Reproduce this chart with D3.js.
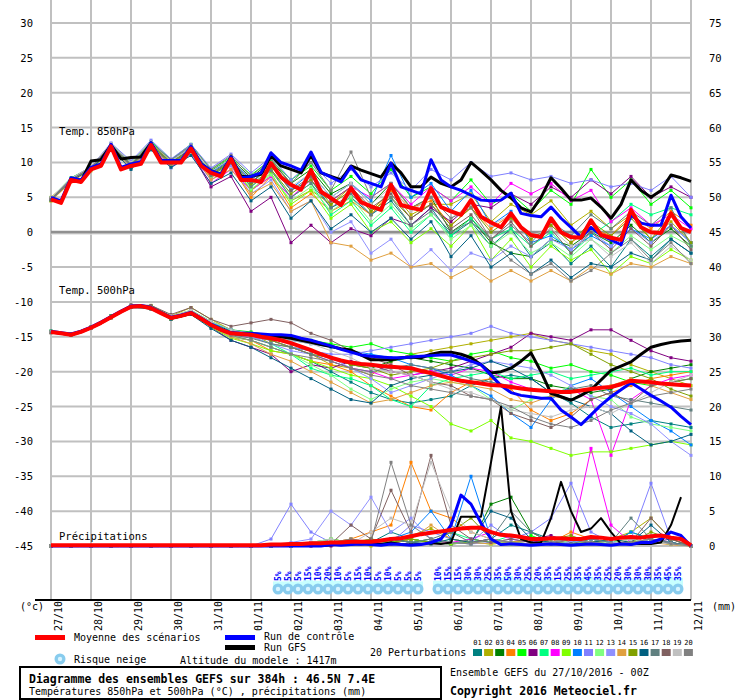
<!DOCTYPE html>
<html><head><meta charset="utf-8">
<script src="https://cdn.jsdelivr.net/npm/d3@7"></script>
<style>body{margin:0;background:#fff}text{font-family:"DejaVu Sans Mono",monospace}</style>
</head><body><svg id="c" width="740" height="700"></svg>
<script>
const dates=["27/10","28/10","29/10","30/10","31/10","01/11","02/11","03/11","04/11","05/11","06/11","07/11","08/11","09/11","10/11","11/11","12/11"];
const leftTicks=[30,25,20,15,10,5,0,-5,-10,-15,-20,-25,-30,-35,-40,-45];
const rightTicks=[75,70,65,60,55,50,45,40,35,30,25,20,15,10,5,0];
const memberColors=["#008080","#b0b000","#008000","#ff8000","#00ff00","#800080","#00ff80","#ff00ff","#80ff00","#0080ff","#8080ff","#80ff80","#9090ff","#e0a040","#80a000","#006080","#608080","#806060","#c0c0c0","#808080"];
// 6-hourly (65 pts)
const mean850=[4.7,4.2,7.5,7.2,9.0,9.5,12.3,9.0,9.5,9.8,12.5,10.0,10.0,10.0,12.0,9.5,8.5,8.0,10.5,7.5,7.5,7.2,9.9,7.9,6.8,6.1,8.9,5.8,4.9,3.9,6.3,4.3,3.7,3.2,6.8,3.9,3.5,3.2,6.3,3.6,3.0,2.5,4.6,2.2,1.4,0.7,2.7,0.7,-0.4,-0.7,2.0,0,-0.7,-0.8,1.7,-0.4,-0.8,-1.1,3.2,0.7,0,-0.1,2.7,0.6,0];
const ctrl850=[5.0,4.5,7.8,7.5,9.3,9.8,12.6,9.3,9.8,10.1,12.8,10.3,10.3,10.3,12.3,9.8,8.8,8.3,10.8,7.8,8.0,8.5,11.4,10.0,9.5,8.9,11.5,8.6,7.9,7.2,9.4,7.5,7.0,6.5,9.9,6.5,6.0,5.5,10.4,7.5,6.5,6.0,5.3,4.6,4.5,4.6,5.6,2.7,2.4,2.2,3.6,2.0,0.7,-0.7,0.7,-0.4,-1.1,-1.8,2.5,1.3,1.0,1.0,5.3,2.2,0.6];
const gfs850=[4.8,4.3,7.6,7.3,10.2,10.4,12.5,10.5,10.7,10.8,12.8,10.2,10.2,10.2,12.2,9.8,8.8,8.3,10.8,8.0,8.0,8.3,11.0,9.5,9.0,8.5,11.0,8.5,8.0,7.5,9.5,8.9,8.4,7.9,9.9,8.5,6.5,6.5,7.9,7.0,6.5,7.5,10.0,8.8,7.5,6.0,4.9,3.5,2.9,5.0,7.8,6.3,4.6,4.6,4.9,3.6,2.0,4.0,7.5,6.0,5.0,6.0,8.2,7.8,7.3];
const mean500=[-14.3,-14.5,-14.7,-14.3,-13.7,-13.0,-12.2,-11.4,-10.7,-10.6,-10.9,-11.6,-12.3,-12.0,-11.6,-12.4,-13.3,-14.0,-14.5,-14.6,-14.7,-15.0,-15.2,-15.5,-15.9,-16.4,-16.9,-17.5,-18.0,-18.4,-18.7,-18.9,-19.0,-19.2,-19.3,-19.4,-19.5,-19.9,-20.2,-20.6,-21.0,-21.3,-21.5,-21.7,-21.9,-22.0,-22.2,-22.4,-22.6,-22.7,-22.8,-22.9,-22.9,-22.7,-22.5,-22.3,-22.2,-21.8,-21.3,-21.4,-21.5,-21.7,-21.8,-21.9,-22.0];
const ctrl500=[-14.2,-14.4,-14.6,-14.2,-13.6,-12.9,-12.1,-11.3,-10.6,-10.5,-10.8,-11.5,-12.2,-11.9,-11.5,-12.3,-13.2,-13.9,-14.4,-14.5,-14.5,-14.6,-14.7,-14.7,-14.8,-15.2,-15.5,-15.9,-16.3,-16.8,-17.2,-17.6,-17.8,-17.9,-18.0,-18.0,-17.9,-17.8,-17.7,-17.6,-17.6,-18.0,-18.5,-19.0,-20.5,-22.0,-23.0,-23.4,-23.6,-23.8,-23.8,-25.5,-26.5,-27.6,-26.2,-24.8,-23.6,-22.6,-21.6,-22.5,-23.4,-24.2,-25.1,-26.4,-27.6];
const gfs500=[-14.3,-14.5,-14.7,-14.3,-13.7,-13.0,-12.2,-11.4,-10.7,-10.6,-10.9,-11.6,-12.3,-12.0,-11.6,-12.4,-13.3,-14.0,-14.5,-14.6,-14.7,-14.8,-14.9,-15.0,-15.2,-15.5,-15.8,-16.1,-16.4,-16.7,-16.9,-17.6,-18.3,-18.3,-18.3,-18.0,-17.9,-18.0,-17.5,-17.2,-17.2,-17.5,-18.0,-19.0,-20.2,-20.0,-19.5,-18.5,-17.3,-20.0,-23.1,-23.6,-24.1,-23.4,-22.6,-21.2,-19.8,-19.2,-18.6,-17.5,-16.5,-16.1,-15.8,-15.6,-15.5];
const meanPr=[0.1,0.1,0.1,0.1,0.1,0.1,0.1,0.1,0.1,0.1,0.1,0.1,0.1,0.1,0.1,0.1,0.1,0.1,0.1,0.1,0.1,0.1,0.2,0.2,0.3,0.3,0.4,0.4,0.5,0.5,0.6,0.6,0.6,0.8,1.0,1.1,1.4,1.7,1.9,2.1,2.3,2.5,2.6,2.6,2.0,1.6,1.5,1.3,1.0,1.0,1.1,1.1,1.0,1.0,1.3,1.2,1.0,1.2,1.3,1.2,1.4,1.5,1.2,1.0,0.1];
const ctrlPr=[0,0,0,0,0,0,0,0,0,0,0,0,0,0,0,0,0,0,0,0,0,0,0,0,0,0,0,0,0.2,0.1,0.2,0.3,0.2,0.1,0.3,0.2,0.1,0.2,0.5,1,3,7.3,6,3.3,1,0.2,0.3,0.2,0.1,0.2,0.3,0.2,0.1,0.2,0.3,0.2,0.1,0.3,0.2,0.5,0.5,1,2,1.5,0];
const gfsPr=[0,0,0,0,0,0,0,0,0,0,0,0,0,0,0,0,0,0,0,0,0,0,0,0,0,0,0,0,0.1,0.2,0.3,0.2,0.4,0.3,0.5,0.3,0.2,0.3,0.4,0.3,0.5,4.2,4.2,4.2,12,20,5,1,0.5,0.5,4,9.2,5,2,2.5,4,2,0.3,0.3,0.3,0.3,0.5,3,7,null];
// 12-hourly members (33 pts)
const m850=[
[4.8,7.3,9.2,12.6,9.3,12.2,9.8,11.6,8.2,10.2,7.0,9.5,6.0,7.5,3.5,5.0,2.5,4.5,1.0,3.5,-0.5,1.5,-2.0,0.5,-3.5,-1.5,-4.5,-2.0,-5.0,-1.0,-3.5,-1.0,-3.0],
[5.0,7.6,8.8,12.0,9.6,12.8,10.2,12.3,8.0,10.0,6.0,8.0,4.5,6.0,4.0,6.5,3.0,6.0,2.5,4.0,4.0,5.5,1.5,4.0,2.5,4.5,1.0,3.0,0.5,2.5,-1.0,1.5,-1.5],
[4.6,7.4,9.4,12.4,9.8,12.6,10.0,11.8,8.8,10.6,7.8,10.2,7.0,9.0,5.5,7.0,4.0,7.0,3.5,5.0,0.0,2.0,-1.5,-3.0,-3.5,-1.0,-2.0,0.0,-1.5,1.0,-1.5,0.5,-2.0],
[4.5,7.2,9.0,12.2,9.2,12.4,9.6,11.5,7.8,9.6,5.0,8.0,3.5,5.5,3.0,4.5,2.5,6.0,3.5,4.5,1.0,3.5,0.5,2.5,-1.0,1.0,-1.5,0.5,-0.5,2.5,0.5,3.0,1.0],
[4.9,7.8,9.3,12.7,10.0,13.0,10.4,12.6,9.0,10.8,8.2,10.4,7.5,9.5,6.0,8.0,5.5,9.0,5.0,6.5,4.5,7.5,4.0,5.5,3.0,6.0,4.0,9.0,5.0,7.5,4.0,6.0,3.5],
[4.7,7.4,9.1,12.3,9.4,12.1,9.6,11.4,6.5,8.0,3.0,5.0,-1.5,1.0,-1.5,0.5,-0.5,2.0,1.0,3.5,1.5,4.0,3.5,5.5,4.0,6.5,5.0,7.5,5.5,8.0,5.0,6.5,5.0],
[4.6,7.5,9.0,12.1,9.8,12.5,10.0,12.0,8.5,10.2,6.5,9.0,5.0,7.0,2.5,4.5,1.0,3.5,0.0,2.5,-0.5,2.0,-1.0,0.5,-2.0,0.0,-3.0,-0.5,1.5,4.0,2.5,3.5,2.5],
[4.8,7.6,9.2,12.5,9.5,12.4,9.4,11.2,7.0,9.0,6.0,8.0,5.0,7.5,4.5,6.5,5.0,7.0,4.0,6.5,4.5,6.5,4.0,7.0,5.5,7.0,4.5,6.0,1.5,3.5,1.0,2.5,0.5],
[4.5,7.3,9.1,12.2,9.7,12.7,10.1,11.8,8.2,9.8,6.0,8.5,4.0,6.0,2.0,4.0,0.0,1.5,-1.5,0.5,-2.0,1.0,-4.0,-1.0,-5.0,-2.0,-4.0,-2.5,-6.0,-3.5,-4.5,-2.5,-4.0],
[4.7,7.5,9.3,12.6,9.6,12.9,10.3,12.2,8.6,10.4,7.5,9.8,6.2,8.5,5.0,7.0,4.5,11.0,5.0,7.0,3.0,6.0,1.0,3.0,-1.5,-0.5,-2.5,-0.5,-2.0,0.5,-1.0,1.0,-1.5],
[4.9,7.7,9.4,12.8,10.2,13.2,10.5,12.6,9.2,11.2,8.5,10.8,7.5,10.0,7.0,9.0,6.5,8.5,6.0,9.0,7.5,10.0,8.0,8.5,7.5,8.0,7.0,7.5,6.5,7.0,6.0,8.0,5.0],
[4.6,7.4,9.0,12.0,9.4,12.3,9.7,11.6,8.0,9.8,6.2,8.2,4.5,6.5,3.0,5.0,1.5,4.0,0.5,2.5,-1.0,1.0,-2.0,0.0,-3.0,-1.5,-3.5,-1.0,-3.0,-0.5,-2.5,-0.5,-2.0],
[4.7,7.5,9.2,12.4,9.2,12.0,9.2,11.2,7.5,9.5,5.5,7.5,3.0,4.5,0.0,1.5,-3.0,-1.0,-5.0,-2.5,-5.5,-3.0,-4.0,-2.0,-3.5,-1.0,-2.5,0.0,-2.0,0.5,-1.5,1.0,-1.5],
[4.5,7.3,8.9,12.1,9.3,12.2,9.5,11.5,7.5,9.0,5.5,7.0,3.0,4.5,-1.5,-2.0,-4.0,-3.0,-5.0,-4.5,-6.5,-5.0,-7.0,-5.5,-7.0,-5.5,-7.0,-5.0,-6.0,-4.5,-5.0,-3.5,-4.5],
[4.8,7.6,9.1,12.3,9.6,12.5,9.9,11.8,8.3,10.0,6.8,9.0,5.5,7.5,4.0,6.0,3.0,5.0,2.0,4.0,1.0,3.5,0.0,2.0,-1.0,1.0,-1.5,1.5,-0.5,2.0,-1.0,2.5,-1.5],
[4.6,7.4,9.0,12.0,9.0,11.8,9.3,11.0,7.0,8.5,4.5,6.5,2.0,4.5,0.5,2.5,0.0,2.0,-1.0,1.5,-3.5,-0.5,-5.0,-3.0,-6.0,-4.0,-6.5,-4.5,-5.0,-3.0,-4.0,-1.0,-3.0],
[4.7,7.5,9.2,12.2,9.5,12.3,9.8,11.7,8.1,9.9,6.5,8.8,5.0,7.0,3.5,5.5,2.5,5.0,1.0,3.0,0.0,1.5,-1.0,1.0,-1.5,1.5,-0.5,2.5,0.5,3.0,1.0,3.5,-2.0],
[4.8,7.6,9.3,12.5,9.7,12.6,10.0,12.0,8.4,10.3,7.2,9.5,6.0,8.0,4.5,6.5,3.5,5.5,2.0,4.0,0.5,2.5,-1.0,1.5,-2.0,0.5,-3.0,0.0,-2.5,0.5,-2.0,1.0,-2.5],
[4.9,7.7,9.4,12.7,10.0,12.9,10.2,12.2,8.7,10.6,7.6,10.0,6.5,8.5,5.0,7.0,4.0,6.5,3.0,5.0,2.0,4.0,1.0,2.5,-0.5,0.5,-2.0,-1.0,-3.5,-1.5,-4.5,-2.0,-4.0],
[4.7,7.5,9.2,12.4,9.8,12.8,10.4,12.4,9.0,11.0,8.0,10.5,7.0,10.0,6.0,11.5,5.0,7.0,3.5,5.0,2.0,3.5,-1.0,-4.0,-6.0,-4.5,-7.0,-5.5,-3.0,-1.0,-4.0,-1.5,-4.5]];
const m500=[
[-14.3,-14.8,-13.8,-12.0,-10.6,-11.0,-12.5,-11.8,-13.5,-15.0,-15.5,-16.5,-17.5,-18.5,-20.0,-21.5,-23.0,-24.0,-24.5,-24.0,-23.5,-22.0,-21.0,-20.5,-21.0,-23.0,-24.5,-26.5,-28.0,-27.5,-27.0,-27.5,-28.0],
[-14.4,-14.6,-13.6,-12.3,-10.8,-10.5,-12.0,-10.8,-12.5,-14.0,-14.5,-16.0,-16.5,-17.5,-19.0,-19.5,-20.5,-18.5,-17.5,-17.0,-16.5,-16.0,-15.5,-15.0,-14.5,-15.5,-16.0,-17.0,-17.5,-19.0,-20.0,-21.0,-22.0],
[-14.2,-14.7,-13.7,-12.1,-10.7,-10.9,-12.3,-11.5,-13.0,-14.2,-14.8,-15.5,-16.5,-17.0,-18.0,-19.0,-19.5,-18.5,-18.0,-18.5,-19.0,-19.5,-20.5,-21.0,-21.0,-22.0,-22.5,-23.0,-22.5,-21.0,-20.0,-19.5,-19.0],
[-14.3,-14.7,-13.8,-12.2,-10.6,-10.8,-12.4,-11.4,-13.4,-15.0,-15.5,-17.0,-17.5,-18.5,-19.0,-20.0,-22.0,-23.5,-25.0,-25.5,-23.0,-21.5,-21.0,-22.5,-25.5,-27.0,-26.0,-24.0,-23.0,-22.0,-21.0,-20.5,-20.0],
[-14.4,-14.8,-13.6,-12.0,-10.5,-10.6,-12.1,-11.2,-12.8,-14.0,-14.3,-14.8,-15.0,-15.5,-16.0,-16.5,-16.0,-17.0,-17.5,-18.0,-18.5,-17.5,-17.0,-18.0,-18.5,-19.5,-19.0,-20.0,-20.5,-21.5,-22.0,-21.5,-21.0],
[-14.3,-14.7,-13.7,-12.2,-10.8,-11.0,-12.4,-11.5,-13.6,-15.5,-16.5,-17.5,-20.0,-19.0,-19.5,-18.5,-19.0,-20.0,-20.5,-20.0,-19.5,-18.5,-17.5,-16.5,-14.5,-15.0,-15.5,-14.0,-14.0,-15.5,-17.0,-18.0,-18.5],
[-14.2,-14.6,-13.6,-12.1,-10.6,-10.7,-12.2,-11.6,-13.2,-14.6,-15.0,-16.0,-17.5,-19.5,-20.5,-21.0,-22.0,-24.0,-25.0,-22.0,-21.0,-20.5,-20.0,-21.0,-20.5,-20.0,-21.0,-20.5,-20.0,-19.5,-20.5,-20.0,-20.0],
[-14.4,-14.7,-13.7,-12.3,-10.7,-10.9,-12.2,-11.3,-13.0,-14.7,-15.0,-15.5,-16.5,-17.5,-18.5,-19.5,-20.0,-21.0,-20.5,-20.0,-20.5,-19.5,-20.0,-21.5,-22.5,-23.0,-22.5,-24.0,-32.0,-24.0,-22.0,-21.0,-20.5],
[-14.3,-14.7,-13.8,-12.3,-10.8,-11.0,-12.5,-11.8,-13.6,-15.2,-16.0,-17.0,-17.5,-18.5,-19.5,-20.5,-21.0,-22.0,-23.5,-25.0,-27.5,-28.5,-27.0,-29.5,-30.0,-31.0,-32.0,-31.5,-31.5,-31.0,-30.5,-30.0,-30.5],
[-14.2,-14.6,-13.7,-12.0,-10.5,-10.8,-12.1,-11.4,-13.0,-14.0,-14.5,-15.0,-15.5,-16.0,-16.5,-17.0,-17.5,-18.0,-19.0,-19.5,-20.5,-22.0,-23.5,-26.0,-28.0,-24.0,-22.0,-21.0,-23.0,-25.0,-27.0,-28.5,-30.5],
[-14.4,-14.8,-13.8,-12.2,-10.6,-10.9,-12.3,-11.6,-13.2,-14.5,-15.0,-15.5,-16.5,-17.0,-17.5,-17.5,-17.0,-16.5,-16.0,-15.5,-15.0,-14.5,-13.5,-14.5,-15.0,-15.5,-16.0,-16.5,-17.0,-17.5,-18.0,-19.0,-19.5],
[-14.3,-14.7,-13.7,-12.2,-10.7,-10.9,-12.4,-11.7,-13.5,-15.0,-15.5,-16.5,-17.5,-19.0,-20.5,-22.5,-24.0,-22.5,-21.5,-21.0,-21.5,-22.0,-24.0,-25.5,-24.0,-23.5,-22.0,-23.5,-24.0,-26.5,-27.5,-28.0,-28.5],
[-14.3,-14.6,-13.6,-12.1,-10.8,-11.0,-12.3,-11.5,-13.2,-14.5,-15.0,-16.0,-17.0,-17.5,-18.0,-19.5,-21.0,-23.0,-22.0,-21.0,-20.0,-19.0,-18.5,-19.0,-19.5,-20.5,-22.0,-23.5,-25.0,-26.0,-27.5,-30.0,-32.0],
[-14.4,-14.8,-13.8,-12.3,-10.7,-11.0,-12.5,-11.8,-13.5,-15.0,-16.0,-17.5,-18.5,-20.0,-21.5,-23.0,-24.5,-24.0,-23.0,-22.0,-21.5,-22.0,-22.5,-24.0,-24.5,-23.5,-24.0,-22.5,-22.0,-21.0,-22.0,-23.0,-24.0],
[-14.2,-14.6,-13.6,-12.0,-10.6,-10.7,-12.2,-11.5,-13.1,-14.4,-14.8,-15.5,-16.5,-17.5,-18.0,-19.0,-19.5,-20.5,-20.0,-19.5,-18.5,-18.0,-17.5,-17.0,-17.0,-16.5,-16.0,-17.5,-19.0,-20.0,-21.0,-22.5,-23.5],
[-14.3,-14.7,-13.7,-12.2,-10.7,-11.0,-12.5,-11.8,-13.8,-15.5,-16.5,-18.0,-19.5,-21.0,-22.5,-24.0,-24.5,-22.0,-21.0,-20.5,-20.0,-19.5,-18.5,-19.5,-21.0,-23.0,-24.0,-25.0,-26.0,-28.5,-30.5,-30.0,-29.0],
[-14.3,-14.7,-13.8,-12.3,-10.7,-10.9,-12.4,-11.6,-13.3,-14.7,-15.2,-16.0,-16.5,-17.5,-18.5,-19.5,-20.0,-19.5,-19.0,-19.5,-20.0,-21.0,-21.5,-22.0,-22.5,-23.0,-22.5,-22.0,-23.5,-24.0,-24.5,-25.0,-25.5],
[-14.4,-14.8,-13.6,-12.1,-10.4,-10.5,-11.8,-10.8,-12.5,-13.5,-13.0,-12.5,-13.0,-14.5,-15.5,-17.0,-18.0,-19.0,-20.5,-21.5,-22.0,-23.5,-24.0,-26.0,-27.0,-28.0,-26.5,-24.0,-23.0,-24.5,-22.0,-21.5,-21.0],
[-14.3,-14.7,-13.7,-12.1,-10.6,-10.8,-12.0,-11.2,-12.8,-14.0,-14.5,-15.0,-15.5,-16.0,-17.0,-18.0,-19.5,-20.0,-20.5,-21.5,-22.5,-23.0,-24.0,-25.5,-26.0,-26.5,-25.5,-25.0,-26.0,-24.5,-23.0,-21.5,-20.5],
[-14.4,-14.7,-13.7,-12.2,-10.7,-10.9,-12.3,-11.6,-13.3,-14.8,-15.5,-16.5,-17.5,-18.0,-18.5,-19.5,-20.5,-21.0,-22.0,-22.5,-23.0,-23.5,-24.0,-25.0,-26.5,-27.5,-28.0,-27.0,-25.5,-24.5,-23.5,-23.0,-22.5]];
const Z11=[0,0,0,0,0,0,0,0,0,0,0];
const mPr=[
[0,0.2,0.5,0.3,1,0.5,2,1,0.5,0.3,0.5,1,3,2,1,0.5,1,0.5,0.3,1,0.5,0],
[0,0,0.3,1,0.5,0,0.5,1.5,2.5,1,0.5,0.3,0.5,1,0.5,0.3,0.5,1,2,4,1,0],
[0,0,0.2,0.5,0.3,0.5,1,0.5,1,0.5,0.3,6,7,2,0.5,1,0.5,0.3,0.5,1,0.5,0],
[0,0,0,0.5,1,2,3,12,5,4,2,1,0.5,0.3,0.5,2,1,0.5,0.3,0.5,0.2,0],
[0,0,0.5,1,0.5,0.3,0.5,1,0.5,0.3,1,0.5,0.3,1.5,0.5,1,0.5,0.3,2,1,0.5,0],
[0,0,0,0,0.3,0.5,0.3,1,0.5,0.3,0.5,1,0.5,1,1.5,0.5,1,0.5,0.3,0.5,1,0],
[0,0,0.3,0.5,0.3,1,0.5,1,0.5,2,1,0.5,1.5,0.5,0.3,0.5,1,0.5,0.3,0.5,0.3,0],
[0,0,0.2,0.3,0.5,0.3,1,0.5,0.3,0.5,1,2,1,0.5,1,0.5,14,3,0.5,1,0.5,0],
[0,0,0.5,0.3,0.5,1,0.5,1,0.5,0.3,0.5,0.3,0.5,1,0.5,0.3,0.5,0.3,0.5,1,0.5,0],
[0,0,0.3,0.5,0.3,0.5,1,2,5,1,10,1,0.5,0.3,0.5,1,0.5,0.3,2,1,0.5,0],
[1,6,2,0.5,0.3,1,0.5,3,2,1,0.5,3,1,2,4,9,2,0.5,1,9,1,0],
[0,0,0.5,1,0.3,0.5,1,0.5,0.3,1,0.5,0.3,0.5,0.3,1,0.5,0.3,0.5,1,0.5,0.3,0],
[0,0.5,1,5,3,7,2,4,1,0.5,0.3,0.5,1,0.5,0.3,0.5,1,0.5,0.3,1,0.5,0],
[0,0,0.3,0.5,1,0.5,0.3,1,3,1,0.5,0.3,0.5,1,0.5,0.3,0.5,1,0.3,0.5,0.3,0],
[0,0,0.2,0.5,0.3,1,0.5,1,0.5,2,4,1,0.5,0.3,1,1.5,0.5,1,0.5,2,1,0],
[0,0,0.3,0.5,0.3,0.5,1,0.5,0.3,1,0.5,5,4,1,0.5,0.3,0.5,1,0.5,3,0.5,0],
[0,0,0.3,0.5,0.3,0.5,1,0.5,1,2,0.5,1,5,2,0.5,0.3,1,0.5,4,1,0.5,0],
[0,0,0.5,0.3,3,1,8,2,13,3,1,0.5,1,0.5,0.3,1,0.5,0.3,0.5,4,1,0],
[0,0,0.5,1,0.3,2,4,3,12,5,2,1,0.5,0.3,0.5,1,0.5,0.3,1,0.5,0.3,0],
[0,0,0.3,0.5,1,0.5,12,3,1,0.5,0.3,1,0.5,0.3,0.5,1,0.5,0.3,0.5,1,0.3,0]].map(a=>Z11.concat(a));
const snow1=[5,5,5,15,10,20,10,5,15,10,5,10,5,5,5]; // steps 23..37
const snow2=[10,15,15,30,30,25,35,50,30,25,20,35,15,25,35,45,35,25,20,30,30,30,35,45,35]; // steps 39..63

const svg=d3.select("#c");
const x=d3.scaleLinear().domain([0,64]).range([51,691]);
const yL=d3.scaleLinear().domain([-45,30]).range([546,23]);
const yR=d3.scaleLinear().domain([0,75]).range([546,23]);
// grid
svg.append("g").selectAll("line").data(dates).join("line")
 .attr("x1",(d,i)=>x(i*4)).attr("x2",(d,i)=>x(i*4)).attr("y1",0).attr("y2",600).attr("stroke","#c0c0c0").attr("stroke-width",2);
svg.append("g").selectAll("line").data(leftTicks).join("line")
 .attr("x1",51).attr("x2",691).attr("y1",d=>yL(d)).attr("y2",d=>yL(d))
 .attr("stroke",d=>d===0?"#909090":"#c0c0c0").attr("stroke-width",d=>d===0?3:2);
svg.append("line").attr("x1",51).attr("x2",691).attr("y1",yL(0)+2).attr("y2",yL(0)+2).attr("stroke","#e0e0e0");
// tick labels
svg.append("g").selectAll("text").data(leftTicks).join("text").attr("x",33).attr("y",d=>yL(d)+4)
 .attr("text-anchor","end").attr("font-size",10.5).text(d=>d);
svg.append("g").selectAll("text").data(rightTicks).join("text").attr("x",709).attr("y",d=>yR(d)+4)
 .attr("font-size",10.5).text(d=>d);
// axis line
svg.append("line").attr("x1",35).attr("x2",691).attr("y1",600).attr("y2",600).attr("stroke","#000").attr("stroke-width",2);
svg.append("text").attr("x",20).attr("y",610).attr("font-size",10).text("(°c)");
svg.append("text").attr("x",712).attr("y",610).attr("font-size",10).text("(mm)");
dates.forEach((d,i)=>{svg.append("text").attr("transform",`translate(${x(i*4)+11},${631}) rotate(-90)`).attr("font-size",10).text(d);});
// snow
function snowGroup(vals,start){
 vals.forEach((v,j)=>{const cx=x(start+j)-3;
  svg.append("rect").attr("x",cx-5).attr("y",588-6-v*0.12).attr("width",10).attr("height",8+v*0.12).attr("fill","#c8ffff");});
 vals.forEach((v,j)=>{const cx=x(start+j)-3;
  svg.append("circle").attr("cx",cx).attr("cy",589).attr("r",5.5).attr("fill","#88ccee");
  svg.append("circle").attr("cx",cx).attr("cy",589).attr("r",2.2).attr("fill","#d8f4ff");
  svg.append("text").attr("transform",`translate(${cx+3},${581}) rotate(-90)`).attr("font-size",8).attr("fill","#0000ff").attr("font-weight","bold").text(v+"%");});
}
snowGroup(snow1,23);snowGroup(snow2,39);
// lines
const line6=(ys)=>d3.line().defined(d=>d!=null).x((d,i)=>x(i)).y(d=>ys(d));
const line12=(ys)=>d3.line().defined(d=>d!=null).x((d,i)=>x(2*i)).y(d=>ys(d));
const mg=svg.append("g");
function members(arrs,ys){
 arrs.forEach((a,k)=>{const c=memberColors[k];
  mg.append("path").attr("d",line12(ys)(a)).attr("fill","none").attr("stroke",c).attr("stroke-width",1);
  mg.append("g").selectAll("rect").data(a).join("rect").attr("x",(d,i)=>x(2*i)-1.5).attr("y",d=>ys(d)-1.5).attr("width",3).attr("height",3).attr("fill",c);
 });
}
members(m850,yL);members(m500,yL);members(mPr,yR);
function big(a,ys,c,w){svg.append("path").attr("d",line6(ys)(a)).attr("fill","none").attr("stroke",c).attr("stroke-width",w).attr("stroke-linejoin","round");}
big(gfs850,yL,"#000",3);big(ctrl850,yL,"#0000ff",3);big(mean850,yL,"#ff0000",4);
big(gfs500,yL,"#000",3);big(ctrl500,yL,"#0000ff",3);big(mean500,yL,"#ff0000",4);
big(gfsPr,yR,"#000",2);big(ctrlPr,yR,"#0000ff",3);big(meanPr,yR,"#ff0000",4);
// section labels
[["Temp. 850hPa",135],["Temp. 500hPa",294],["Précipitations",540]].forEach(([t,y])=>svg.append("text").attr("x",59).attr("y",y).attr("font-size",10.5).text(t));
// legend
svg.append("rect").attr("x",35).attr("y",635).attr("width",30).attr("height",5).attr("fill","#ff0000");
svg.append("text").attr("x",74).attr("y",641).attr("font-size",10).text("Moyenne des scénarios");
svg.append("rect").attr("x",225).attr("y",635).attr("width",30).attr("height",5).attr("fill","#0000ff");
svg.append("text").attr("x",264).attr("y",640).attr("font-size",10).text("Run de contrôle");
svg.append("rect").attr("x",225).attr("y",645).attr("width",30).attr("height",5).attr("fill","#000");
svg.append("text").attr("x",264).attr("y",651).attr("font-size",10).text("Run GFS");
svg.append("circle").attr("cx",60).attr("cy",659).attr("r",5.5).attr("fill","#88ccee");
svg.append("circle").attr("cx",60).attr("cy",659).attr("r",2.2).attr("fill","#d8f4ff");
svg.append("text").attr("x",74).attr("y",663).attr("font-size",10).text("Risque neige");
svg.append("text").attr("x",180).attr("y",664).attr("font-size",10).text("Altitude du modele : 1417m");
svg.append("text").attr("x",370).attr("y",656).attr("font-size",10).text("20 Perturbations");
memberColors.forEach((c,k)=>{const bx=473+k*11.1;
 svg.append("rect").attr("x",bx).attr("y",649).attr("width",9).attr("height",7).attr("fill",c);
 svg.append("text").attr("x",bx+4.5).attr("y",645).attr("text-anchor","middle").attr("font-size",7).text(String(k+1).padStart(2,"0"));});
svg.append("rect").attr("x",20).attr("y",667).attr("width",421).attr("height",32).attr("fill","none").attr("stroke","#000").attr("stroke-width",2);
svg.append("text").attr("x",29).attr("y",683).attr("font-size",11.5).attr("font-weight","bold").text("Diagramme des ensembles GEFS sur 384h : 46.5N 7.4E");
svg.append("text").attr("x",29).attr("y",695).attr("font-size",10).text("Températures 850hPa et 500hPa (°C) , précipitations (mm)");
svg.append("text").attr("x",450).attr("y",676).attr("font-size",10).text("Ensemble GEFS du 27/10/2016 - 00Z");
svg.append("text").attr("x",450).attr("y",695).attr("font-size",11.5).attr("font-weight","bold").text("Copyright 2016 Meteociel.fr");
</script></body></html>
